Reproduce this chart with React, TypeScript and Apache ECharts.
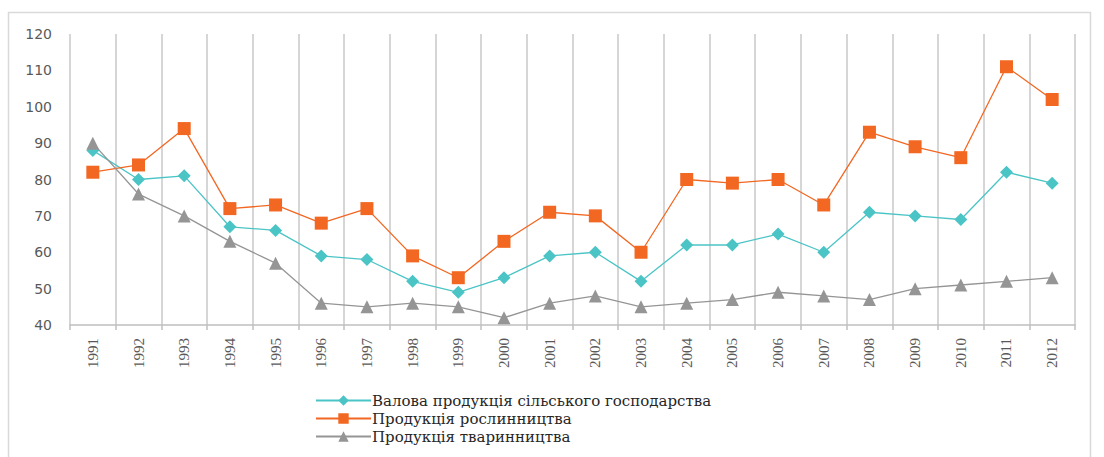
import React, { useEffect, useRef } from "react";
import * as echarts from "echarts";

const years = ["1991","1992","1993","1994","1995","1996","1997","1998","1999","2000","2001","2002","2003","2004","2005","2006","2007","2008","2009","2010","2011","2012"];
const grossAgri = [88, 80, 81, 67, 66, 59, 58, 52, 49, 53, 59, 60, 52, 62, 62, 65, 60, 71, 70, 69, 82, 79];
const cropProd = [82, 84, 94, 72, 73, 68, 72, 59, 53, 63, 71, 70, 60, 80, 79, 80, 73, 93, 89, 86, 111, 102];
const livestockProd = [90, 76, 70, 63, 57, 46, 45, 46, 45, 42, 46, 48, 45, 46, 47, 49, 48, 47, 50, 51, 52, 53];
const seriesNames = ["Валова продукція сільського господарства", "Продукція рослинництва", "Продукція тваринництва"];

export default function App() {
  const ref = useRef<HTMLDivElement>(null);
  useEffect(() => {
    if (!ref.current) return;
    const chart = echarts.init(ref.current, null, { renderer: "svg" });
    chart.setOption({
      animation: false,
      backgroundColor: "#ffffff",
      graphic: [
        {
          type: "rect",
          shape: { x: 8.5, y: 12.5, width: 1082, height: 470 },
          style: { fill: "none", stroke: "#d9d9d9", lineWidth: 1.5 },
          silent: true,
          z: -10,
        },
      ],
      grid: { left: 70, right: 29, top: 34, bottom: 132, containLabel: false },
      legend: {
        orient: "vertical",
        left: 310,
        top: 388,
        itemWidth: 55,
        itemHeight: 13,
        itemGap: 3,
        textStyle: { fontFamily: "DejaVu Serif", fontSize: 15, color: "#262626", padding: [0, 0, 0, -4] },
        data: seriesNames,
      },
      xAxis: {
        type: "category",
        data: years,
        boundaryGap: true,
        axisLine: { show: true, lineStyle: { color: "#bfbfbf", width: 1.5 } },
        axisTick: { show: true, length: 5, lineStyle: { color: "#bfbfbf", width: 1.5 } },
        splitLine: { show: true, lineStyle: { color: "#c8c8c8", width: 1.5 } },
        axisLabel: { rotate: 90, margin: 13, fontFamily: "Liberation Serif", fontSize: 15, color: "#595959" },
      },
      yAxis: {
        type: "value",
        min: 40,
        max: 120,
        interval: 10,
        axisLine: { show: false },
        axisTick: { show: false },
        splitLine: { show: false },
        axisLabel: { margin: 18, fontFamily: "DejaVu Sans", fontSize: 14, color: "#595959" },
      },
      series: [
        {
          name: seriesNames[0],
          type: "line",
          data: grossAgri,
          symbol: "diamond",
          symbolSize: 13,
          itemStyle: { color: "#4bc4c6" },
          lineStyle: { color: "#4bc4c6", width: 1.3 },
        },
        {
          name: seriesNames[1],
          type: "line",
          data: cropProd,
          symbol: "rect",
          symbolSize: 13,
          itemStyle: { color: "#f26722" },
          lineStyle: { color: "#f26722", width: 1.3 },
        },
        {
          name: seriesNames[2],
          type: "line",
          data: livestockProd,
          symbol: "triangle",
          symbolSize: 13,
          itemStyle: { color: "#959595" },
          lineStyle: { color: "#959595", width: 1.3 },
        },
      ],
    });
    return () => chart.dispose();
  }, []);
  return (
    <div
      ref={ref}
      style={{ position: "fixed", left: 0, top: 0, width: 1104, height: 457 }}
    />
  );
}
